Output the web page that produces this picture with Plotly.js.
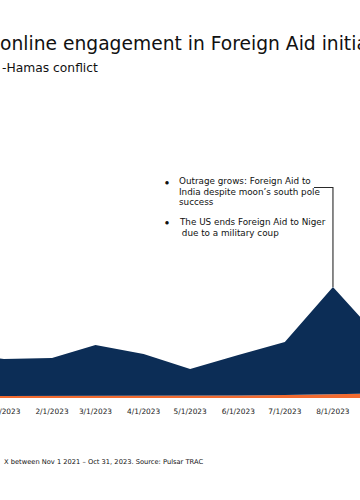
<!DOCTYPE html>
<html>
<head>
<meta charset="utf-8">
<script src="https://cdn.plot.ly/plotly-3.0.1.min.js"></script>
<style>
  html, body { margin: 0; padding: 0; background: #ffffff; }
  #chart { width: 360px; height: 500px; }
</style>
</head>
<body>
<div id="chart"></div>
<script>
// ---- data (units are arbitrary engagement units) ----
const months = ['2022-12-01', '2023-01-01', '2023-02-01', '2023-03-01', '2023-04-01',
                '2023-05-01', '2023-06-01', '2023-07-01', '2023-08-01', '2023-09-01'];
const otherEngagement = [2, 2, 2, 2, 2, 2, 2.5, 3, 4, 4.5];          // orange (bottom layer)
const foreignAidEngagement = [43, 37, 38, 51, 42, 27, 40.5, 53, 107, 53.5]; // navy (stacked on top)

const tickDates = ['2023-01-01', '2023-02-01', '2023-03-01', '2023-04-01',
                   '2023-05-01', '2023-06-01', '2023-07-01', '2023-08-01'];

const titleText = 'online engagement in Foreign Aid initiatives';
const subtitleText = '-Hamas conflict';
const footerText = 'X between Nov 1 2021 \u2013 Oct 31, 2023. Source: Pulsar TRAC';
const eventBlock1 = ['Outrage grows: Foreign Aid to', 'India despite moon\u2019s south pole', 'success'];
const eventBlock2 = ['The US ends Foreign Aid to Niger', ' due to a military coup'];
const eventMonth = '2023-08-01';

// ---- styling ----
const FONT = 'DejaVu Sans, Liberation Sans, sans-serif';
const NAVY = '#0c2d56';
const ORANGE = '#f36b30';
const W = 360, H = 500, MT = 98, MB = 102;
const plotH = H - MT - MB;
const px2x = px => px / W;
const py2y = py => (H - MB - py) / plotH;

const peakIdx = months.indexOf(eventMonth);
const peakTotal = otherEngagement[peakIdx] + foreignAidEngagement[peakIdx];

const traces = [
  {
    x: months, y: otherEngagement, type: 'scatter', mode: 'lines',
    stackgroup: 'one', line: { width: 0, color: ORANGE }, fillcolor: ORANGE,
    hoverinfo: 'skip', showlegend: false
  },
  {
    x: months, y: foreignAidEngagement, type: 'scatter', mode: 'lines',
    stackgroup: 'one', line: { width: 0, color: NAVY }, fillcolor: NAVY,
    hoverinfo: 'skip', showlegend: false
  }
];

const annotations = [];
function textLine(t, xpx, ypx, size, anchor) {
  annotations.push({
    text: t, xref: 'paper', yref: 'paper', x: px2x(xpx), y: py2y(ypx),
    xanchor: anchor || 'left', yanchor: 'middle', showarrow: false,
    font: { family: FONT, size: size, color: '#111111' }
  });
}
textLine(subtitleText, -0.5, 67.5, 12.3);
textLine(footerText, 1.5, 462, 6.7);
const lh = 10.5;
eventBlock1.forEach((t, i) => textLine(t, 176.5, 181 + i * lh, 8.8));
eventBlock2.forEach((t, i) => textLine(t, 176.5, 222 + i * lh, 8.8));
textLine('\u25CF', 167, 182, 4.5, 'center');
textLine('\u25CF', 167, 222.5, 4.5, 'center');

const layout = {
  width: W, height: H,
  margin: { l: 0, r: 0, t: MT, b: MB, pad: 0 },
  paper_bgcolor: '#ffffff', plot_bgcolor: '#ffffff',
  title: {
    text: titleText, xref: 'container', x: 0, xanchor: 'left',
    yref: 'container', y: 1 - 43 / H, yanchor: 'middle',
    font: { family: FONT, size: 18.7, color: '#111111' }
  },
  xaxis: {
    type: 'date',
    range: ['2022-12-29 12:00', '2023-08-18 10:00'],
    tickmode: 'array', tickvals: tickDates, tickformat: '%-m/%-d/%Y',
    showgrid: false, zeroline: false, showline: false, ticks: '',
    tickfont: { family: FONT, size: 7.4, color: '#222222' },
    ticklabelstandoff: 8, ticklabeloverflow: 'allow'
  },
  yaxis: {
    range: [0, plotH], visible: false, showgrid: false, zeroline: false, fixedrange: true
  },
  shapes: [
    {
      type: 'path', xref: 'x', yref: 'y',
      path: 'M ' + eventMonth + ',' + peakTotal + ' L ' + eventMonth + ',210.5 L 2023-07-19_19:00,210.5',
      line: { color: '#2a2a2a', width: 1.1 }
    }
  ],
  annotations: annotations,
  showlegend: false
};

Plotly.newPlot('chart', traces, layout, { staticPlot: true, displayModeBar: false });
</script>
</body>
</html>
